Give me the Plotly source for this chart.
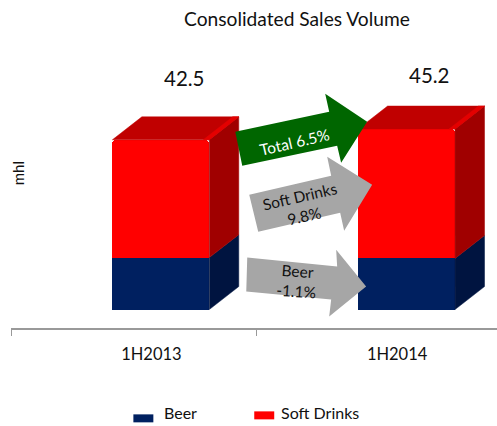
import plotly.graph_objects as go

# Sales volume by half-year, in mhl
periods = ["1H2013", "1H2014"]
beer = [13.0, 12.8]
soft_drinks = [29.5, 32.4]
totals = [b + s for b, s in zip(beer, soft_drinks)]

WIDTH, HEIGHT = 497, 426
FONT = "Lato, Carlito, Calibri, sans-serif"

# Plot frame in page pixels
PLOT_L, PLOT_R, PLOT_T, PLOT_B = 10.5, 497, 8, 328.5
PX_PER_CAT = 246.0
PX_PER_MHL = 4.0
X0_PX, Y0_PX = 151.0, 310.0  # pixel of first category label centre, pixel of value zero

x_range = [(PLOT_L - X0_PX) / PX_PER_CAT, (PLOT_R - X0_PX) / PX_PER_CAT]
y_range = [(Y0_PX - PLOT_B) / PX_PER_MHL, (Y0_PX - PLOT_T) / PX_PER_MHL]

# Pseudo-3D box geometry, in axis units
BAR_W = 97 / PX_PER_CAT
BAR_SHIFT = 9.5 / PX_PER_CAT
DEPTH_X = 29.5 / PX_PER_CAT
DEPTH_Y = 23 / PX_PER_MHL
BEVEL = 6 / PX_PER_CAT

NAVY, NAVY_SIDE = "#002060", "#001440"
RED, RED_TOP, RED_SIDE, RED_BEVEL = "#FF0000", "#C00000", "#A00000", "#E40000"


def px(x):
    return (x - PLOT_L) / (PLOT_R - PLOT_L)


def py(y):
    return (PLOT_B - y) / (PLOT_B - PLOT_T)


fig = go.Figure()

centres = [i + BAR_SHIFT for i in range(len(periods))]


def polygon(xs, ys, color):
    fig.add_scatter(
        x=xs + xs[:1], y=ys + ys[:1], mode="lines", fill="toself",
        fillcolor=color, line=dict(color=color, width=0.5),
        hoverinfo="skip", showlegend=False,
    )


fig.add_bar(x=centres, y=beer, width=BAR_W, marker=dict(color=NAVY, line_width=0), name="Beer")
fig.add_bar(x=centres, y=soft_drinks, width=BAR_W, marker=dict(color=RED, line_width=0), name="Soft Drinks")

# Side and top faces of each box
for c, b, s in zip(centres, beer, soft_drinks):
    left, right = c - BAR_W / 2, c + BAR_W / 2
    top = b + s
    polygon([right, right + DEPTH_X, right + DEPTH_X, right], [0, DEPTH_Y, b + DEPTH_Y, b], NAVY_SIDE)
    polygon([right, right + DEPTH_X, right + DEPTH_X, right], [b, b + DEPTH_Y, top + DEPTH_Y, top], RED_SIDE)
    polygon([left, left + DEPTH_X, right + DEPTH_X, right], [top, top + DEPTH_Y, top + DEPTH_Y, top], RED_TOP)
    polygon([right - BEVEL, right + DEPTH_X - BEVEL, right + DEPTH_X, right],
            [top, top + DEPTH_Y, top + DEPTH_Y, top], RED_BEVEL)


def arrow_path(points):
    return "M" + " L".join(f"{px(x):.4f},{py(y):.4f}" for x, y in points) + " Z"


# Growth arrows: outline, fill, label lines, label centre and text angle
arrows = [
    ([(235, 132), (329, 112), (325, 94), (367, 122), (341, 163), (337, 146), (242, 166)],
     "#006600", "Total 6.5%", (294, 142), -13, "#FFFFFF"),
    ([(249, 195), (331, 176), (327, 157), (372, 185), (344, 231), (340, 213), (258, 232)],
     "#A6A6A6", "Soft Drinks<br>9.8%", (302, 206), -13, "#111111"),
    ([(247, 258), (337, 267), (336, 250), (366, 287), (329, 317), (331, 300), (246, 292)],
     "#A6A6A6", "Beer<br>-1.1%", (297, 281), 4, "#111111"),
]

shapes = []
annotations = []
for points, color, label, (lx, ly), angle, text_color in arrows:
    shapes.append(dict(type="path", xref="paper", yref="paper", path=arrow_path(points),
                       fillcolor=color, line_width=0, layer="above"))
    annotations.append(dict(xref="paper", yref="paper", x=px(lx), y=py(ly), text=label, showarrow=False,
                            xanchor="center", yanchor="middle", textangle=angle,
                            font=dict(family=FONT, size=15.5, color=text_color)))


def page_text(x, y, text, size, angle=0, anchor="center"):
    annotations.append(dict(xref="paper", yref="paper", x=px(x), y=py(y), text=text, showarrow=False,
                            xanchor=anchor, yanchor="middle", textangle=angle,
                            font=dict(family=FONT, size=size, color="#111111")))


page_text(297, 19, "Consolidated Sales Volume", 19.2)
page_text(184, 78, f"{totals[0]:.1f}", 20.5)
page_text(429, 75, f"{totals[1]:.1f}", 20.5)
page_text(17, 173, "mhl", 15, angle=-90)

# Legend keys sit on slightly different baselines, so they are laid out by hand
legend_keys = [("Beer", NAVY, 133, 415, 162), ("Soft Drinks", RED, 254, 412, 279)]
for name, color, kx, ky, tx in legend_keys:
    shapes.append(dict(type="rect", xref="paper", yref="paper", x0=px(kx), x1=px(kx + 20),
                       y0=py(ky + 8), y1=py(ky), fillcolor=color, line_width=0, layer="above"))
    page_text(tx, 413, name, 16, anchor="left")

fig.update_layout(
    width=WIDTH, height=HEIGHT, autosize=False,
    barmode="stack", bargap=0, barcornerradius=4, showlegend=False,
    paper_bgcolor="white", plot_bgcolor="white",
    margin=dict(l=PLOT_L, r=WIDTH - PLOT_R, t=PLOT_T, b=HEIGHT - PLOT_B, pad=0),
    font=dict(family=FONT, color="#111111"),
    shapes=shapes, annotations=annotations,
    xaxis=dict(
        range=x_range, tickmode="array", tickvals=list(range(len(periods))), ticktext=periods,
        ticks="outside", ticklen=10, tickcolor="rgba(0,0,0,0)", tickfont=dict(family=FONT, size=16.5, color="#111111"),
        showline=True, linecolor="#999999", linewidth=1.5, showgrid=False, zeroline=False,
        minor=dict(tickmode="array", tickvals=[x_range[0] + 0.002, x_range[0] + 1.0],
                   ticks="outside", ticklen=6, tickcolor="#999999", tickwidth=1, showgrid=False),
    ),
    yaxis=dict(range=y_range, visible=False, showgrid=False, zeroline=False),
)
fig.update_traces(cliponaxis=False, selector=dict(type="bar"))

fig.write_html("out.html", config=dict(displayModeBar=False))
